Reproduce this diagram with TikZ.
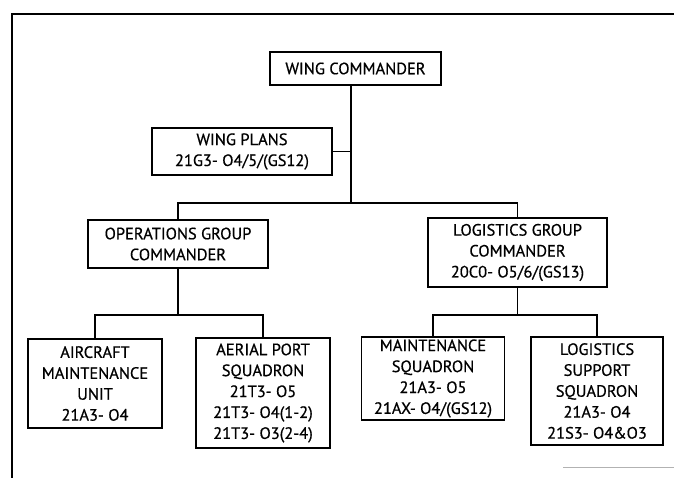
\documentclass[tikz,border=0pt]{standalone}
\usepackage{fontspec}
\newfontfamily\chartfont{PT Sans}[FakeBold=0.6]
\usetikzlibrary{positioning}

\begin{document}
\begin{tikzpicture}[x=1bp,y=-1bp,line width=1.8bp,
    box/.style={draw,align=center,inner sep=0pt,
      font=\chartfont\fontsize{16.5}{21}\selectfont}]

  \useasboundingbox (0,0) rectangle (674,478);
  \draw (674,14) -- (12,14) -- (12,478);
  \draw[gray!60,line width=1bp] (563,467) -- (674,467);

  \node[box,minimum width=171bp,minimum height=33bp] (wc) at (355.5,68.5) {WING COMMANDER};
  \node[box,minimum width=180bp,minimum height=47bp] (wp) at (242,151.5) {WING PLANS\\21G3- O4/5/(GS12)};

  \node[box,minimum width=180bp,minimum height=48bp] (ogc) at (178,244) {OPERATIONS GROUP\\COMMANDER};
  \node[box,minimum width=179bp,minimum height=69bp] (lgc) at (517.5,252.5) {LOGISTICS GROUP\\COMMANDER\\20C0- O5/6/(GS13)};

  \node[box,minimum width=134bp,minimum height=89bp] (amu) at (95,383.5) {AIRCRAFT\\MAINTENANCE\\UNIT\\21A3- O4};
  \node[box,minimum width=134bp,minimum height=110bp] (aps) at (263,393) {AERIAL PORT\\SQUADRON\\21T3- O5\\21T3- O4(1-2)\\21T3- O3(2-4)};
  \node[box,minimum width=143bp,minimum height=83bp] (ms) at (433,378.5) {MAINTENANCE\\SQUADRON\\21A3- O5\\21AX- O4/(GS12)};
  \node[box,minimum width=132bp,minimum height=108bp] (lss) at (597,391) {LOGISTICS\\SUPPORT\\SQUADRON\\21A3- O4\\21S3- O4\&O3};

  \coordinate (j1) at (351,203);
  \coordinate (j2) at (ogc.south |- 0,315);
  \coordinate (j3) at (lgc.south |- 0,315);

  \draw (j1 |- wc.south) -- (j1);
  \draw (wp.east) -- (wp.east -| j1);
  \draw (ogc.north) |- (j1) -| (lgc.north);
  \draw (ogc.south) -- (j2);
  \draw (amu.north) |- (j2) -| (aps.north);
  \draw (lgc.south) -- (j3);
  \draw (ms.north) |- (j3) -| (lss.north);

\end{tikzpicture}
\end{document}
